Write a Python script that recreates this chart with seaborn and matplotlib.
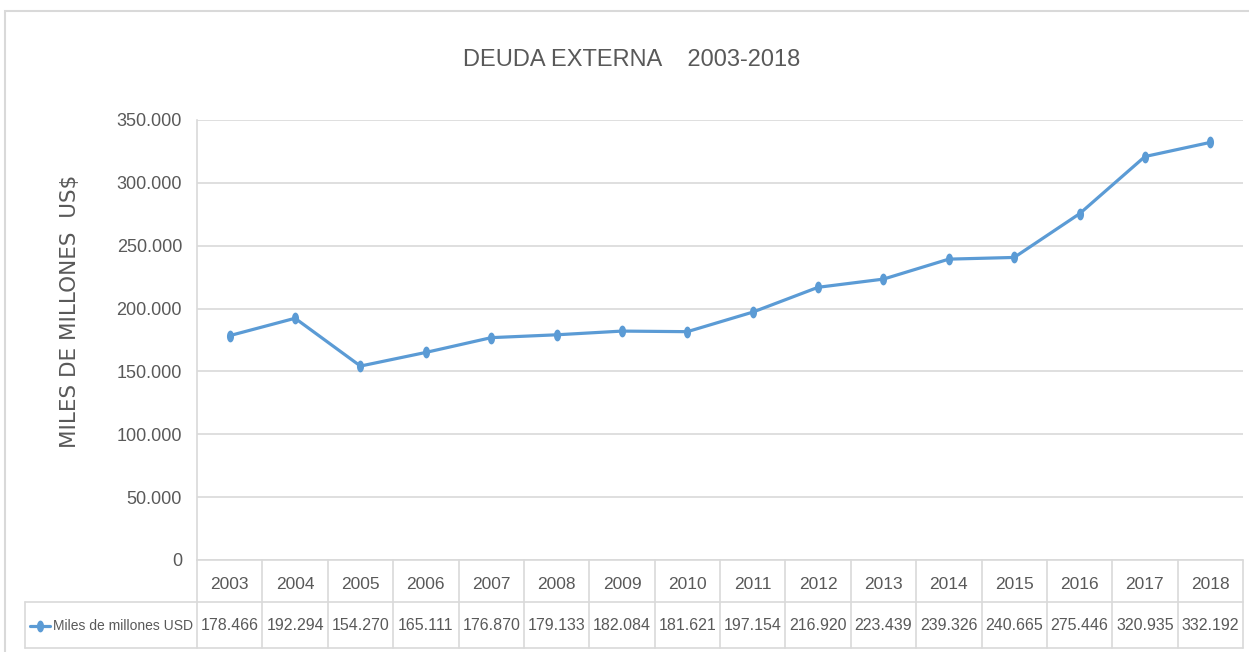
import matplotlib.pyplot as plt
import matplotlib.transforms as mtransforms
from matplotlib.lines import Line2D
from matplotlib.patches import Rectangle
import seaborn as sns
import numpy as np
import pandas as pd

sns.set_theme(style="white")
plt.rcParams["font.family"] = ["Liberation Sans", "DejaVu Sans"]

# ---------- datos ----------
anios = ["2003", "2004", "2005", "2006", "2007", "2008", "2009", "2010",
         "2011", "2012", "2013", "2014", "2015", "2016", "2017", "2018"]
deuda = [178.466, 192.294, 154.270, 165.111, 176.870, 179.133, 182.084, 181.621,
         197.154, 216.920, 223.439, 239.326, 240.665, 275.446, 320.935, 332.192]
yticks = [0, 50, 100, 150, 200, 250, 300, 350]
serie = "Miles de millones USD"

df = pd.DataFrame({"pos": np.arange(len(anios)), "deuda": deuda})

AZUL = "#5b9bd5"
GRIS_TXT = "#595959"
GRIS_LIN = "#d9d9d9"
W, H = 1249, 652

# marcador en forma de elipse vertical
t = np.linspace(0, 2 * np.pi, 40)
elipse = list(zip(0.6 * np.cos(t), np.sin(t)))

fig = plt.figure(figsize=(W / 100, H / 100), dpi=100)
ax = fig.add_axes([197 / W, 92 / H, 1046 / W, 440 / H])

sns.lineplot(data=df, x="pos", y="deuda", ax=ax, color=AZUL, linewidth=2.3,
             marker=elipse, markersize=8.5, markeredgewidth=0, legend=False)

ax.set_xlim(-0.5, len(anios) - 0.5)
ax.set_ylim(0, 350)
ax.set_yticks(yticks)
ax.set_yticklabels(["0" if v == 0 else f"{v}.000" for v in yticks],
                   fontsize=13, color=GRIS_TXT)
ax.tick_params(axis="y", length=0, pad=10.8)
ax.grid(axis="y", color=GRIS_LIN, linewidth=1.2)
ax.set_xticks(df["pos"])
ax.set_xticklabels(anios, fontsize=12.5, color=GRIS_TXT)
ax.tick_params(axis="x", length=0, pad=12)
ax.set_xlabel("")
ax.set_ylabel("")
for s in ["top", "right", "bottom"]:
    ax.spines[s].set_visible(False)
ax.spines["left"].set_color(GRIS_LIN)
ax.spines["left"].set_linewidth(1.2)

fy = lambda y: 1 - y / H
fx = lambda x: x / W

fig.text(fx(632), fy(60), "DEUDA EXTERNA    2003-2018", ha="center", va="center",
         fontsize=17, color=GRIS_TXT)
fig.text(fx(70), fy(311), "MILES DE MILLONES  US$", ha="center", va="center",
         rotation=90, family="DejaVu Sans", fontsize=15.5, color=GRIS_TXT)

# ---------- tabla de datos ----------
trans = mtransforms.blended_transform_factory(ax.transData, fig.transFigure)

# filas de la tabla: cabecera 560-602, datos 602-648
for k in range(len(anios) + 1):
    fig.add_artist(Line2D([k - 0.5, k - 0.5], [fy(560), fy(648)], transform=trans,
                          color=GRIS_LIN, linewidth=1.2))
for y0 in [602, 648]:
    fig.add_artist(Line2D([fx(25), fx(1243)], [fy(y0), fy(y0)], transform=fig.transFigure,
                          color=GRIS_LIN, linewidth=1.2))
fig.add_artist(Line2D([fx(25), fx(25)], [fy(602), fy(648)], transform=fig.transFigure,
                      color=GRIS_LIN, linewidth=1.2))
fig.add_artist(Line2D([fx(197), fx(1243)], [fy(560), fy(560)], transform=fig.transFigure,
                      color=GRIS_LIN, linewidth=1.2))

for p, v in zip(df["pos"], df["deuda"]):
    fig.text(p, fy(626), f"{v:.3f}", transform=trans, ha="center", va="center",
             fontsize=11.5, color=GRIS_TXT)

# leyenda dentro de la tabla
fig.add_artist(Line2D([fx(30), fx(50)], [fy(626), fy(626)], transform=fig.transFigure,
                      color=AZUL, linewidth=2.3))
fig.add_artist(Line2D([fx(40)], [fy(626)], transform=fig.transFigure, color=AZUL,
                      marker=elipse, markersize=8.5, markeredgewidth=0))
fig.text(fx(53), fy(626), serie, ha="left", va="center", fontsize=10, color=GRIS_TXT)

# borde del gráfico
fig.add_artist(Rectangle((fx(5), fy(652) - 0.01), 1.2, fy(11) - fy(652) + 0.01,
                         transform=fig.transFigure, fill=False,
                         edgecolor=GRIS_LIN, linewidth=1.5))

fig.savefig("out.png", dpi=100)
